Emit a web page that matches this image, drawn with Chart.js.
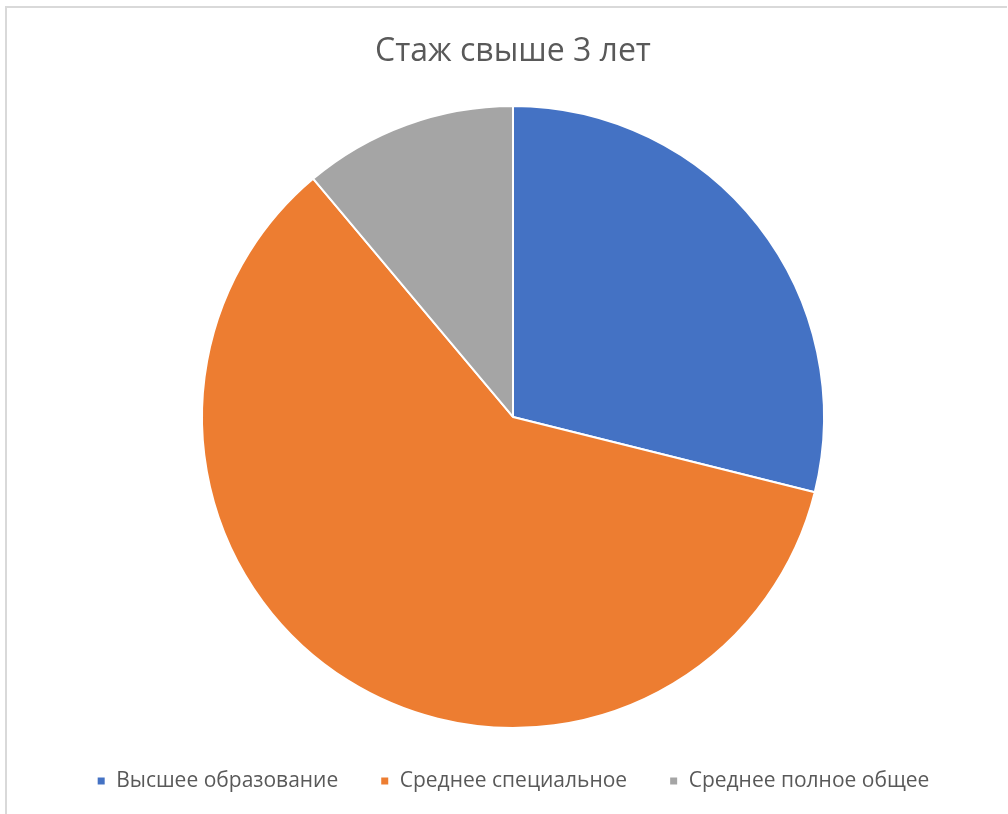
<!DOCTYPE html>
<html>
<head>
<meta charset="utf-8">
<script src="https://cdn.jsdelivr.net/npm/chart.js@4"></script>
<style>
html,body{margin:0;padding:0;background:#fff;}
#frame{position:absolute;left:5px;top:6px;width:1002px;height:820px;border-top:2px solid #d9d9d9;border-left:2px solid #d9d9d9;box-sizing:border-box;}
#wrap{position:absolute;left:0;top:0;width:1008px;height:814px;}
</style>
</head>
<body>
<div id="frame"></div>
<div id="wrap"><canvas id="c" width="1008" height="814"></canvas></div>
<script>
const chartTitle = 'Стаж свыше 3 лет';
const categories = ['Высшее образование', 'Среднее специальное', 'Среднее полное общее'];
const values = [26, 54, 10];
const colors = ['#4472C4', '#ED7D31', '#A5A5A5'];

new Chart(document.getElementById('c'), {
  type: 'pie',
  data: {
    labels: categories,
    datasets: [{
      data: values,
      backgroundColor: colors,
      borderColor: '#ffffff',
      borderWidth: 2,
      radius: 311
    }]
  },
  options: {
    responsive: false,
    animation: false,
    layout: { padding: { left: 18, right: 0, top: 0, bottom: 12.5 } },
    plugins: {
      title: {
        display: true,
        text: chartTitle,
        color: '#595959',
        font: { family: 'Open Sans', size: 32, weight: 'normal' },
        padding: { top: 33, bottom: 34 }
      },
      legend: {
        position: 'bottom',
        labels: {
          color: '#595959',
          font: { family: 'Open Sans', size: 21 },
          boxWidth: 9,
          boxHeight: 9,
          padding: 42
        }
      },
      tooltip: { enabled: false }
    }
  }
});
</script>
</body>
</html>
